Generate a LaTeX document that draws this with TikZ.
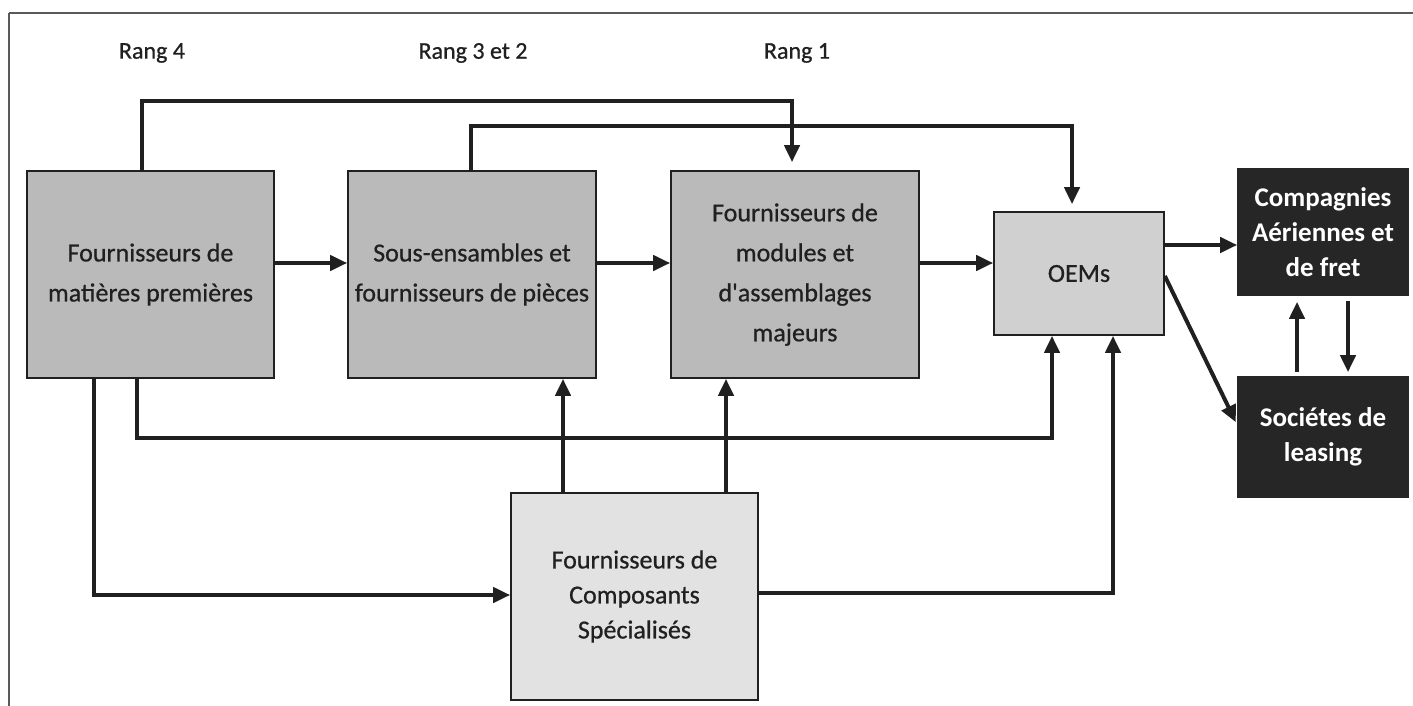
\documentclass[tikz,border=0pt]{standalone}
\usepackage{fontspec}
\setmainfont{Carlito}
\newfontfamily\semib{Carlito}[FakeBold=0.7]
\usetikzlibrary{arrows.meta,calc}
\definecolor{boxgrey}{RGB}{186,186,186}
\definecolor{oemgrey}{RGB}{208,208,208}
\definecolor{specgrey}{RGB}{226,226,226}
\definecolor{darkbox}{RGB}{38,38,38}
\definecolor{ink}{RGB}{32,32,32}
\definecolor{framegrey}{RGB}{90,90,90}
\begin{document}
\begin{tikzpicture}[x=1pt,y=-1pt,
  box/.style={draw=ink, line width=1.6pt, inner sep=0pt, align=center, text=ink,
    font=\semib\fontsize{26}{40}\selectfont},
  greybox/.style={box, fill=boxgrey, minimum width=247pt, minimum height=207pt},
  darkbx/.style={box, fill=darkbox, text=white, draw=darkbox, minimum width=170pt,
    font=\bfseries\fontsize{27}{35}\selectfont},
  rang/.style={font=\semib\fontsize{24}{28}\selectfont, text=ink, inner sep=0pt},
  conn/.style={draw=ink, line width=4pt},
  arr/.style={conn, -{Triangle[length=17pt,width=15pt]}},
]
\useasboundingbox (0,0) rectangle (1413,706);
% frame
\draw[framegrey, line width=1.5pt] (9,13) -- (1413,13);
\draw[framegrey, line width=1.5pt] (9,13) -- (9,706);

% rank labels
\node[rang] (r4) at (152,53) {Rang 4};
\node[rang] (r32) at (473,53) {Rang 3 et 2};
\node[rang] (r1) at (797,53) {Rang 1};

% boxes
\node[greybox] (b1) at (150.5,274.5) {Fournisseurs de\\matières premières};
\node[greybox, minimum width=248pt] (b2) at (472,274.5) {Sous-ensambles et\\fournisseurs de pièces};
\node[greybox, minimum width=248pt] (b3) at (795,274.5) {Fournisseurs de\\modules et\\d\textquotesingle assemblages\\majeurs};
\node[box, fill=oemgrey, minimum width=170pt, minimum height=123pt] (oem) at (1079,273.5) {OEMs};
\node[darkbx, minimum height=126pt] (comp) at (1323,232) {Compagnies\\Aériennes et\\de fret};
\node[darkbx, minimum height=120pt] (leas) at (1323,437) {Sociétes de\\leasing};
\node[box, fill=specgrey, minimum width=247pt, minimum height=207pt,
  font=\semib\fontsize{26}{35}\selectfont] (spec) at (634.5,596.5) {Fournisseurs de\\Composants\\Spécialisés};

% horizontal chain
\draw[arr] (b1.east |- 0,263) -- (b2.west |- 0,263);
\draw[arr] (b2.east |- 0,263) -- (b3.west |- 0,263);
\draw[arr] (b3.east |- 0,263) -- (oem.west |- 0,263);
\draw[arr] (oem.east |- 0,245) -- (comp.west |- 0,245);

% top bypasses
\draw[arr, shorten >=8pt] (b1.north -| 142,0) -- (142,101) -- (792,101) -- (b3.north -| 792,0);
\draw[arr, shorten >=7pt] (b2.north -| 471,0) -- (471,126) -- (1072,126) -- (oem.north -| 1072,0);

% bottom bypasses
\draw[arr] (b1.south -| 137,0) -- (137,438) -- (1052,438) -- (oem.south -| 1052,0);
\draw[arr] (b1.south -| 94,0) -- (94,595) -- (spec.west |- 0,595);
\draw[arr] (spec.north -| 563,0) -- (b2.south -| 563,0);
\draw[arr] (spec.north -| 726,0) -- (b3.south -| 726,0);
\draw[arr] (spec.east |- 0,593) -- (1113,593) -- (oem.south -| 1113,0);

% to leasing
\draw[arr, shorten >=3pt] (oem.east |- 0,276) -- (leas.west |- 0,425);
\draw[arr, shorten <=4pt, shorten >=6pt] (leas.north -| 1297,0) -- (comp.south -| 1297,0);
\draw[arr, shorten <=5pt, shorten >=4pt] (comp.south -| 1348,0) -- (leas.north -| 1348,0);
\end{tikzpicture}
\end{document}
